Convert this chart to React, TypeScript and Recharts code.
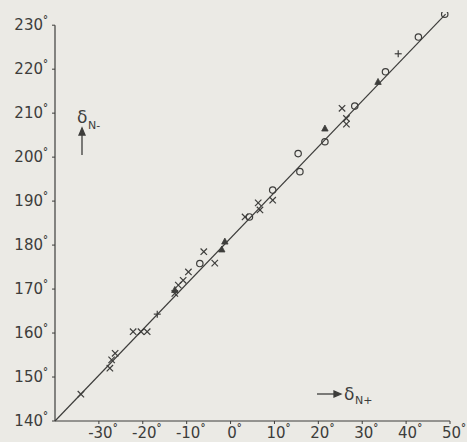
import React from "react";
import { ScatterChart, Scatter, XAxis, YAxis, ReferenceLine } from "recharts";

const INK = "#3d3d3b";
const PAPER = "#ebeae5";
const FONT = "'DejaVu Sans', sans-serif";

const xTicks = [-30, -20, -10, 0, 10, 20, 30, 40, 50];
const yTicks = [140, 150, 160, 170, 180, 190, 200, 210, 220, 230];

const crossPts = [
  { x: -34.1, y: 146.1 }, { x: -27.5, y: 152.0 }, { x: -27.1, y: 153.9 }, { x: -26.3, y: 155.4 },
  { x: -22.2, y: 160.3 }, { x: -20.4, y: 160.3 }, { x: -19.0, y: 160.3 }, { x: -12.7, y: 169.0 },
  { x: -11.9, y: 170.9 }, { x: -10.8, y: 172.0 }, { x: -9.6, y: 173.9 }, { x: -6.1, y: 178.5 },
  { x: -3.6, y: 175.9 }, { x: 3.3, y: 186.4 }, { x: 6.3, y: 189.6 }, { x: 6.7, y: 188.0 },
  { x: 9.6, y: 190.2 }, { x: 25.4, y: 211.1 }, { x: 26.4, y: 208.8 }, { x: 26.4, y: 207.5 },
];
const plusPts = [{ x: -16.7, y: 164.3 }, { x: 38.2, y: 223.5 }];
const circlePts = [
  { x: -7.0, y: 175.8 }, { x: 4.3, y: 186.4 }, { x: 9.6, y: 192.5 }, { x: 15.4, y: 200.8 },
  { x: 15.8, y: 196.7 }, { x: 21.5, y: 203.5 }, { x: 28.3, y: 211.6 }, { x: 35.3, y: 219.4 },
  { x: 42.8, y: 227.3 }, { x: 48.8, y: 232.5 },
];
const trianglePts = [
  { x: -12.7, y: 169.8 }, { x: -2.0, y: 179.0 }, { x: -1.3, y: 180.8 }, { x: 21.5, y: 206.5 },
  { x: 33.6, y: 217.1 },
];
const fitLine = [{ x: -40, y: 140 }, { x: 49, y: 232.5 }];

const Cross = ({ cx, cy }: any) => (
  <g stroke={INK} strokeWidth={1.2}>
    <line x1={cx - 3.2} y1={cy - 3.2} x2={cx + 3.2} y2={cy + 3.2} />
    <line x1={cx - 3.2} y1={cy + 3.2} x2={cx + 3.2} y2={cy - 3.2} />
  </g>
);
const Plus = ({ cx, cy }: any) => (
  <g stroke={INK} strokeWidth={1.2}>
    <line x1={cx - 3.5} y1={cy} x2={cx + 3.5} y2={cy} />
    <line x1={cx} y1={cy - 3.5} x2={cx} y2={cy + 3.5} />
  </g>
);
const Ring = ({ cx, cy }: any) => (
  <circle cx={cx} cy={cy} r={3.2} fill="none" stroke={INK} strokeWidth={1.2} />
);
const Tri = ({ cx, cy }: any) => (
  <path d={`M${cx},${cy - 3.5}L${cx + 3.2},${cy + 2.5}L${cx - 3.2},${cy + 2.5}Z`} fill={INK} stroke={INK} strokeWidth={0.8} />
);

const YTick = ({ x, y, payload }: any) => (
  <text x={x - 2} y={y + 5} textAnchor="end" fill={INK} fontSize={15} fontFamily={FONT}>
    {payload.value}
    <tspan dy={-7} fontSize={10} fontWeight="bold">°</tspan>
  </text>
);
const XTick = ({ x, y, payload }: any) => (
  <text x={x + 4} y={y + 12} textAnchor="middle" fill={INK} fontSize={15} fontFamily={FONT}>
    {payload.value}
    <tspan dy={-7} fontSize={10} fontWeight="bold">°</tspan>
  </text>
);

export default function App() {
  return (
    <div style={{ position: "absolute", left: 0, top: 0, width: 467, height: 442, background: PAPER }}>
      <ScatterChart width={467} height={442} margin={{ top: 12, right: 17, bottom: 0, left: 0 }}>
        <XAxis
          type="number"
          dataKey="x"
          domain={[-40, 50]}
          ticks={xTicks}
          tick={<XTick />}
          tickSize={3}
          height={21}
          stroke={INK}
          allowDataOverflow
        />
        <YAxis
          type="number"
          dataKey="y"
          domain={[140, 233]}
          ticks={yTicks}
          tick={<YTick />}
          tickSize={3}
          width={55}
          axisLine={false}
          stroke={INK}
          allowDataOverflow
        />
        <ReferenceLine segment={[{ x: -40, y: 140 }, { x: -40, y: 230 }]} stroke={INK} strokeWidth={1.2} ifOverflow="visible" />
        <ReferenceLine segment={fitLine} stroke={INK} strokeWidth={1.2} ifOverflow="visible" />
        <Scatter data={crossPts} shape={<Cross />} isAnimationActive={false} />
        <Scatter data={plusPts} shape={<Plus />} isAnimationActive={false} />
        <Scatter data={circlePts} shape={<Ring />} isAnimationActive={false} />
        <Scatter data={trianglePts} shape={<Tri />} isAnimationActive={false} />
      </ScatterChart>
      <svg width={467} height={442} style={{ position: "absolute", left: 0, top: 0, pointerEvents: "none" }}>
        <g fill={INK} fontFamily={FONT}>
          <text x={77} y={123} fontSize={17}>δ</text>
          <text x={88} y={129} fontSize={11}>N-</text>
          <text x={344} y={400} fontSize={17}>δ</text>
          <text x={355} y={404} fontSize={11}>N+</text>
        </g>
        <g stroke={INK} strokeWidth={1.3} fill={INK}>
          <line x1={82} y1={155} x2={82} y2={133} />
          <path d="M82,128L79,135L85,135Z" />
          <line x1={317} y1={394} x2={336} y2={394} />
          <path d="M341,394L334,391L334,397Z" />
        </g>
      </svg>
    </div>
  );
}
